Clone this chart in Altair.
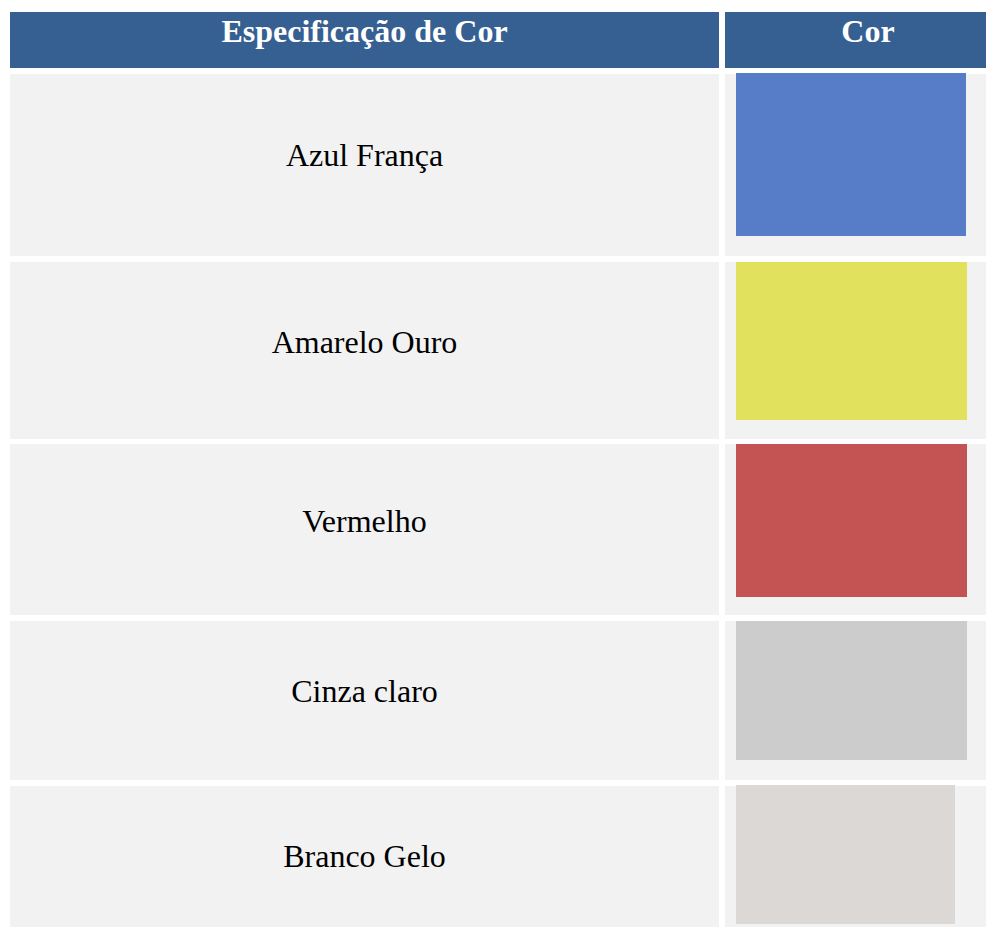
import altair as alt
import pandas as pd

# ---- data ----
headers = ["Especificação de Cor", "Cor"]
names = ["Azul França", "Amarelo Ouro", "Vermelho", "Cinza claro", "Branco Gelo"]
swatch_colors = ["#587DC8", "#E1E15E", "#C45454", "#CCCCCC", "#DCD8D5"]

# ---- layout (page pixel units) ----
HEADER_COLOR = "#366092"
ROW_BG = "#F2F2F2"
FONT = "Liberation Serif"
PAGE_RIGHT = 986   # last page pixel column inside the chart
PAGE_BOTTOM = 927  # last page pixel row inside the chart
header_top, header_bottom, header_base = 12, 68, 42
col_left = [10, 725]
col_right = [719, PAGE_RIGHT]
header_text_x = [364.5, 868]
row_top = [74, 262, 444, 621, 786]
row_bottom = [256, 439, 615, 780, PAGE_BOTTOM]
sw_left = 736
sw_top = [73, 262, 444, 621, 785]
sw_bottom = [236, 420, 597, 760, 924]
sw_right = [966, 967, 967, 967, 955]
text_base = [166, 353, 532, 702, 867]

xs = alt.Scale(domain=[8, PAGE_RIGHT], zero=False, nice=False)
ys = alt.Scale(domain=[8, PAGE_BOTTOM], reverse=True, zero=False, nice=False)

# header cells
hdr = pd.DataFrame({
    "label": headers,
    "x": col_left, "x2": col_right,
    "tx": header_text_x,
    "y": [header_top] * 2, "y2": [header_bottom] * 2,
    "ty": [header_base] * 2,
})

# body cells (two per row)
cells = []
for i, n in enumerate(names):
    for c in range(2):
        cells.append({"x": col_left[c], "x2": col_right[c],
                      "y": row_top[i], "y2": row_bottom[i]})
cells = pd.DataFrame(cells)

rows = pd.DataFrame({
    "name": names,
    "color": swatch_colors,
    "sx": [sw_left] * len(names), "sx2": sw_right,
    "sy": sw_top, "sy2": sw_bottom,
    "tx": [364.5] * len(names),
    "ty": text_base,
})

hdr_rect = alt.Chart(hdr).mark_rect(color=HEADER_COLOR).encode(
    x=alt.X("x:Q", scale=xs, axis=None), x2="x2:Q",
    y=alt.Y("y:Q", scale=ys, axis=None), y2="y2:Q",
)
hdr_text = alt.Chart(hdr).mark_text(
    font=FONT, fontSize=32, fontWeight="bold", color="white",
    align="center", baseline="alphabetic",
).encode(
    x=alt.X("tx:Q", scale=xs, axis=None),
    y=alt.Y("ty:Q", scale=ys, axis=None),
    text="label:N",
)
cell_rect = alt.Chart(cells).mark_rect(color=ROW_BG).encode(
    x=alt.X("x:Q", scale=xs, axis=None), x2="x2:Q",
    y=alt.Y("y:Q", scale=ys, axis=None), y2="y2:Q",
)
swatch = alt.Chart(rows).mark_rect().encode(
    x=alt.X("sx:Q", scale=xs, axis=None), x2="sx2:Q",
    y=alt.Y("sy:Q", scale=ys, axis=None), y2="sy2:Q",
    color=alt.Color("color:N", scale=None),
)
name_text = alt.Chart(rows).mark_text(
    font=FONT, fontSize=32, color="black",
    align="center", baseline="alphabetic",
).encode(
    x=alt.X("tx:Q", scale=xs, axis=None),
    y=alt.Y("ty:Q", scale=ys, axis=None),
    text="name:N",
)

chart = alt.layer(hdr_rect, hdr_text, cell_rect, swatch, name_text).properties(
    width=PAGE_RIGHT - 8, height=PAGE_BOTTOM - 8, padding=0, background="white",
    autosize=alt.AutoSizeParams(type="none"),
).configure_view(stroke=None)

chart.save("out.html", embed_options={"renderer": "svg", "actions": False})
